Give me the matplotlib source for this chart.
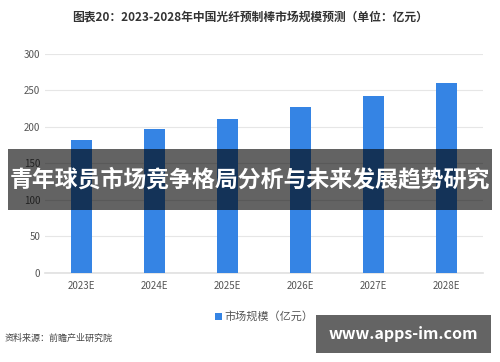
import matplotlib
matplotlib.use('Agg')
import matplotlib.pyplot as plt
from matplotlib.patches import Rectangle

plt.rcParams['font.family'] = ['Noto Sans CJK SC', 'DejaVu Sans']

years = ['2023E', '2024E', '2025E', '2026E', '2027E', '2028E']
market = [182, 197, 211, 227, 242, 260]
yticks = [0, 50, 100, 150, 200, 250, 300]

fig = plt.figure(figsize=(5, 3.62), dpi=100)
ax = fig.add_axes([0.09, 0.246, 0.876, 0.605])

bars = ax.bar(range(len(years)), market, width=0.3, color='#3584e4',
              label='市场规模（亿元）', zorder=3)
ax.set_xlim(-0.5, len(years) - 0.5)
ax.set_ylim(0, 300)
ax.set_yticks(yticks)
ax.set_xticks(range(len(years)))
ax.set_xticklabels(years)
ax.tick_params(axis='both', length=0, labelsize=7, colors='#555555')
ax.tick_params(axis='x', pad=6)
ax.grid(axis='y', color='#e6e6e6', linewidth=0.8, zorder=0)
for s in ['top', 'right', 'left']:
    ax.spines[s].set_visible(False)
ax.spines['bottom'].set_color('#e0e0e0')
ax.spines['bottom'].set_linewidth(1.2)

fig.text(0.5, 0.953, '图表20：2023-2028年中国光纤预制棒市场规模预测（单位：亿元）',
         ha='center', va='center', fontsize=8.5, fontweight='bold', color='#333333')

ax.legend(loc='upper center', bbox_to_anchor=(0.5, -0.13), frameon=False,
          fontsize=8, handlelength=0.6, handleheight=0.6, handletextpad=0.2,
          labelcolor='#555555')

fig.text(0.01, 0.066, '资料来源：前瞻产业研究院', ha='left', va='center',
         fontsize=6.5, color='#444444')

# dark overlay band with headline
fig.patches.append(Rectangle((0.016, 0.42), 0.968, 0.168, transform=fig.transFigure,
                             facecolor='black', alpha=0.61, zorder=10))
fig.text(0.5, 0.503, '青年球员市场竞争格局分析与未来发展趋势研究', ha='center', va='center',
         fontsize=16.5, fontweight='bold', color='white', zorder=11)

# bottom-right site box
fig.patches.append(Rectangle((0.632, 0.025), 0.35, 0.105, transform=fig.transFigure,
                             facecolor='#646464', zorder=10))
fig.text(0.807, 0.077, 'www.apps-im.com', ha='center', va='center',
         fontsize=11.5, fontweight='bold', color='white', zorder=11)

fig.savefig('out.png', dpi=100)
